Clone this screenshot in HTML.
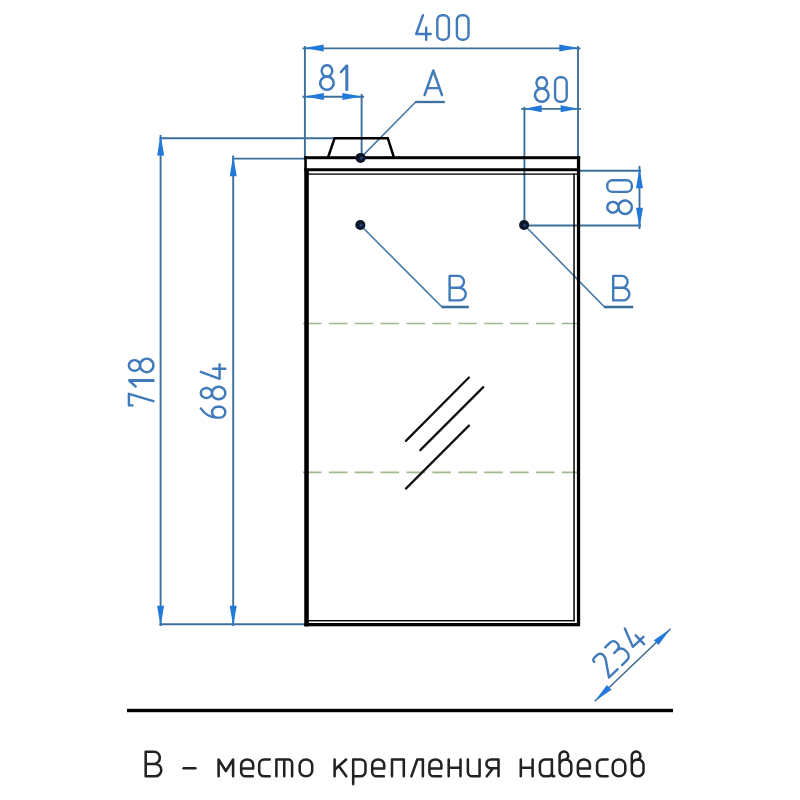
<!DOCTYPE html>
<html><head><meta charset="utf-8"><title>drawing</title>
<style>
html,body{margin:0;padding:0;background:#fff;width:800px;height:800px;overflow:hidden;font-family:"Liberation Sans",sans-serif;}
svg{display:block;position:absolute;left:0;top:0}
</style></head><body>
<svg width="800" height="800" viewBox="0 0 800 800">
<defs><filter id="soft" x="0" y="0" width="800" height="800" filterUnits="userSpaceOnUse"><feGaussianBlur stdDeviation="0.42"/></filter></defs>
<rect width="800" height="800" fill="#fff"/>
<g filter="url(#soft)">
<line x1="302.9" y1="323.5" x2="578" y2="323.5" stroke="#9fb98a" stroke-width="1.6" stroke-dasharray="18.6 7.3"/>
<line x1="302.9" y1="472.4" x2="578" y2="472.4" stroke="#9fb98a" stroke-width="1.6" stroke-dasharray="18.6 7.3"/>
<line x1="302.5" y1="48.4" x2="580.5" y2="48.4" stroke="#3b6f9c" stroke-width="1.9" />
<line x1="304.9" y1="46" x2="304.9" y2="157" stroke="#3b6f9c" stroke-width="1.9" />
<line x1="578.0" y1="46" x2="578.0" y2="157" stroke="#3b6f9c" stroke-width="1.9" />
<polygon points="304.20,48.00 323.70,44.50 323.70,51.50" fill="#2279d9"/>
<polygon points="578.80,48.00 559.30,51.50 559.30,44.50" fill="#2279d9"/>
<line x1="302.5" y1="96.7" x2="364" y2="96.7" stroke="#3b6f9c" stroke-width="1.9" />
<line x1="361.6" y1="94" x2="361.6" y2="157" stroke="#3b6f9c" stroke-width="1.9" />
<polygon points="304.40,96.50 323.90,93.00 323.90,100.00" fill="#2279d9"/>
<polygon points="361.90,96.50 342.40,100.00 342.40,93.00" fill="#2279d9"/>
<line x1="521" y1="108.9" x2="581" y2="108.9" stroke="#3b6f9c" stroke-width="1.9" />
<line x1="524.4" y1="107" x2="524.4" y2="225" stroke="#3b6f9c" stroke-width="1.9" />
<polygon points="524.20,108.80 541.70,105.30 541.70,112.30" fill="#2279d9"/>
<polygon points="578.60,108.80 560.60,112.30 560.60,105.30" fill="#2279d9"/>
<line x1="580" y1="170.7" x2="641" y2="170.7" stroke="#3b6f9c" stroke-width="1.9" />
<line x1="524" y1="225.5" x2="641" y2="225.5" stroke="#3b6f9c" stroke-width="1.9" />
<line x1="639.5" y1="166" x2="639.5" y2="229" stroke="#3b6f9c" stroke-width="1.9" />
<polygon points="639.50,168.00 643.00,188.20 636.00,188.20" fill="#2279d9"/>
<polygon points="639.50,227.60 636.00,207.80 643.00,207.80" fill="#2279d9"/>
<line x1="160.6" y1="135" x2="160.6" y2="626" stroke="#3b6f9c" stroke-width="1.9" />
<line x1="159.5" y1="138.2" x2="334" y2="138.2" stroke="#3b6f9c" stroke-width="1.9" />
<line x1="159.5" y1="624.2" x2="305" y2="624.2" stroke="#3b6f9c" stroke-width="1.9" />
<polygon points="160.60,134.60 164.10,155.60 157.10,155.60" fill="#2279d9"/>
<polygon points="160.60,626.30 157.10,605.80 164.10,605.80" fill="#2279d9"/>
<line x1="233.2" y1="155.5" x2="233.2" y2="626" stroke="#3b6f9c" stroke-width="1.9" />
<line x1="232" y1="158.6" x2="305" y2="158.6" stroke="#3b6f9c" stroke-width="1.9" />
<polygon points="233.20,155.20 236.70,176.20 229.70,176.20" fill="#2279d9"/>
<polygon points="233.20,626.30 229.70,605.80 236.70,605.80" fill="#2279d9"/>
<line x1="594.75" y1="701.25" x2="670.6" y2="628.75" stroke="#3a668f" stroke-width="1.4" />
<polygon points="594.75,701.25 606.93,685.05 611.49,689.82" fill="#2279d9"/>
<polygon points="670.60,628.75 658.42,644.95 653.86,640.18" fill="#2279d9"/>
<line x1="360.8" y1="157.6" x2="415.6" y2="102" stroke="#4577a3" stroke-width="1.6" />
<line x1="415" y1="102" x2="444.8" y2="102" stroke="#3b6f9c" stroke-width="2.3" />
<line x1="360" y1="224.8" x2="442" y2="307" stroke="#4577a3" stroke-width="1.6" />
<line x1="441.5" y1="307" x2="468.8" y2="307" stroke="#3b6f9c" stroke-width="2.6" />
<line x1="524" y1="224.8" x2="604.5" y2="307" stroke="#4577a3" stroke-width="1.6" />
<line x1="604" y1="307" x2="633.2" y2="307" stroke="#3b6f9c" stroke-width="2.6" />
<path d="M328.2,157 L334.6,138.2 H387.8 L393.8,157" fill="none" stroke="#000" stroke-width="2.5" stroke-linejoin="miter"/>
<rect x="304.25" y="156.2" width="275.90" height="3.00" fill="#000"/>
<rect x="304.25" y="168.25" width="275.75" height="2.95" fill="#000"/>
<rect x="308" y="173.45" width="269.00" height="1.30" fill="#000"/>
<rect x="304.25" y="156.2" width="2.55" height="470.10" fill="#000"/>
<rect x="306.0" y="169" width="2.80" height="457.30" fill="#000"/>
<rect x="576.9" y="156.2" width="3.25" height="469.80" fill="#000"/>
<rect x="573.3" y="173.5" width="1.50" height="447.80" fill="#000"/>
<rect x="304.25" y="623.0" width="275.75" height="3.30" fill="#000"/>
<rect x="308" y="620.0" width="266.80" height="1.40" fill="#000"/>
<line x1="405.9" y1="440.9" x2="468.9" y2="377.5" stroke="#111" stroke-width="2.2" stroke-linecap="round"/>
<line x1="420.3" y1="450.1" x2="483.3" y2="387.1" stroke="#111" stroke-width="2.2" stroke-linecap="round"/>
<line x1="405.9" y1="488.6" x2="468.9" y2="425.6" stroke="#111" stroke-width="2.2" stroke-linecap="round"/>
<circle cx="360.6" cy="157.9" r="5.0" fill="#0a1326"/>
<circle cx="361.3" cy="158.1" r="1.7" fill="#243f6b"/>
<circle cx="360.35" cy="225.0" r="5.0" fill="#0a1326"/>
<circle cx="361.05" cy="225.2" r="1.7" fill="#243f6b"/>
<circle cx="524.1" cy="225.0" r="5.0" fill="#0a1326"/>
<circle cx="524.8000000000001" cy="225.2" r="1.7" fill="#243f6b"/>
<rect x="127" y="708.8" width="546.00" height="3.40" fill="#000"/>
<g transform="translate(416.20,39.70) rotate(0) scale(1.0)" fill="none" stroke="#3f7aba" stroke-width="2.4" stroke-linecap="round" stroke-linejoin="round"><path transform="translate(0.00,-24.50) scale(1.0,1)" vector-effect="non-scaling-stroke" d="M6.8,0 L0,18.8 H14.5 M10.0,12.4 V24.5"/><path transform="translate(21.10,-24.50) scale(1.0,1)" vector-effect="non-scaling-stroke" d="M0,5 A5,5 0 0 1 5,0 H6.6 A5,5 0 0 1 11.6,5 V19.5 A5,5 0 0 1 6.6,24.5 H5 A5,5 0 0 1 0,19.5 Z"/><path transform="translate(40.70,-24.50) scale(1.0,1)" vector-effect="non-scaling-stroke" d="M0,5 A5,5 0 0 1 5,0 H6.6 A5,5 0 0 1 11.6,5 V19.5 A5,5 0 0 1 6.6,24.5 H5 A5,5 0 0 1 0,19.5 Z"/></g>
<g transform="translate(320.20,89.80) rotate(0) scale(1.0)" fill="none" stroke="#3f7aba" stroke-width="2.4" stroke-linecap="round" stroke-linejoin="round"><path transform="translate(0.00,-24.50) scale(1.0,1)" vector-effect="non-scaling-stroke" d="M6.75,0 A5.3,5.6 0 1 1 6.74,0 Z M6.75,11.2 A6.75,6.65 0 1 1 6.74,11.2 Z"/><path transform="translate(20.70,-24.50) scale(1.0,1)" vector-effect="non-scaling-stroke" d="M0,6.8 L5.6,0.4 V24.5 M6.2,0.4 V24.5"/></g>
<g transform="translate(535.00,101.80) rotate(0) scale(1.0)" fill="none" stroke="#3f7aba" stroke-width="2.4" stroke-linecap="round" stroke-linejoin="round"><path transform="translate(0.00,-24.50) scale(1.0,1)" vector-effect="non-scaling-stroke" d="M6.75,0 A5.3,5.6 0 1 1 6.74,0 Z M6.75,11.2 A6.75,6.65 0 1 1 6.74,11.2 Z"/><path transform="translate(20.10,-24.50) scale(1.0,1)" vector-effect="non-scaling-stroke" d="M0,5 A5,5 0 0 1 5,0 H6.6 A5,5 0 0 1 11.6,5 V19.5 A5,5 0 0 1 6.6,24.5 H5 A5,5 0 0 1 0,19.5 Z"/></g>
<g transform="translate(424.60,95.00) rotate(0) scale(1.0)" fill="none" stroke="#3f7aba" stroke-width="2.4" stroke-linecap="round" stroke-linejoin="round"><path transform="translate(0.00,-24.50) scale(1.0,1)" vector-effect="non-scaling-stroke" d="M0,24.5 L8.7,0 L17.4,24.5 M3.2,17.6 H14.2"/></g>
<g transform="translate(449.60,300.40) rotate(0) scale(1.0)" fill="none" stroke="#3f7aba" stroke-width="2.4" stroke-linecap="round" stroke-linejoin="round"><path transform="translate(0.00,-24.50) scale(1.0,1)" vector-effect="non-scaling-stroke" d="M0,0 V24.5 H9.5 A6.5,6.1 0 0 0 9.5,11.9 H0 M0,0 H8.5 A5.9,5.95 0 0 1 8.5,11.9"/></g>
<g transform="translate(613.20,300.40) rotate(0) scale(1.0)" fill="none" stroke="#3f7aba" stroke-width="2.4" stroke-linecap="round" stroke-linejoin="round"><path transform="translate(0.00,-24.50) scale(1.0,1)" vector-effect="non-scaling-stroke" d="M0,0 V24.5 H9.5 A6.5,6.1 0 0 0 9.5,11.9 H0 M0,0 H8.5 A5.9,5.95 0 0 1 8.5,11.9"/></g>
<g transform="translate(153.40,405.40) rotate(-90) scale(1.0)" fill="none" stroke="#3f7aba" stroke-width="2.4" stroke-linecap="round" stroke-linejoin="round"><path transform="translate(0.00,-24.50) scale(1.0,1)" vector-effect="non-scaling-stroke" d="M0,3.6 V0 H11.6 L4.2,24.5"/><path transform="translate(18.90,-24.50) scale(1.0,1)" vector-effect="non-scaling-stroke" d="M0,6.8 L5.6,0.4 V24.5 M6.2,0.4 V24.5"/><path transform="translate(33.20,-24.50) scale(1.0,1)" vector-effect="non-scaling-stroke" d="M6.75,0 A5.3,5.6 0 1 1 6.74,0 Z M6.75,11.2 A6.75,6.65 0 1 1 6.74,11.2 Z"/></g>
<g transform="translate(225.30,417.60) rotate(-90) scale(1.0)" fill="none" stroke="#3f7aba" stroke-width="2.4" stroke-linecap="round" stroke-linejoin="round"><path transform="translate(0.00,-24.50) scale(1,1)" vector-effect="non-scaling-stroke" d="M9.2,0 Q0,6.5 0,15.5 V19.2 A5.4,5.3 0 0 0 10.8,19.2 V16.6 A5.4,5.3 0 0 0 0,16.6"/><path transform="translate(18.40,-24.50) scale(0.92,1)" vector-effect="non-scaling-stroke" d="M6.75,0 A5.3,5.6 0 1 1 6.74,0 Z M6.75,11.2 A6.75,6.65 0 1 1 6.74,11.2 Z"/><path transform="translate(38.82,-24.50) scale(1,1)" vector-effect="non-scaling-stroke" d="M6.8,0 L0,18.8 H14.5 M10.0,12.4 V24.5"/></g>
<g transform="translate(631.80,214.00) rotate(-90) scale(1.0)" fill="none" stroke="#3f7aba" stroke-width="2.4" stroke-linecap="round" stroke-linejoin="round"><path transform="translate(0.00,-24.50) scale(1.0,1)" vector-effect="non-scaling-stroke" d="M6.75,0 A5.3,5.6 0 1 1 6.74,0 Z M6.75,11.2 A6.75,6.65 0 1 1 6.74,11.2 Z"/><path transform="translate(22.10,-24.50) scale(1.0,1)" vector-effect="non-scaling-stroke" d="M0,5 A5,5 0 0 1 5,0 H6.6 A5,5 0 0 1 11.6,5 V19.5 A5,5 0 0 1 6.6,24.5 H5 A5,5 0 0 1 0,19.5 Z"/></g>
<g transform="translate(609.00,677.50) rotate(-43.6) scale(1.0)" fill="none" stroke="#3f7aba" stroke-width="2.4" stroke-linecap="round" stroke-linejoin="round"><path transform="translate(0.00,-24.50) scale(1.0,1)" vector-effect="non-scaling-stroke" d="M0,3 Q0,0 3.5,0 H6 Q11.3,0 11.3,5 Q11.3,7.6 9.9,9.4 L0,24.5 H12"/><path transform="translate(18.00,-24.50) scale(1.0,1)" vector-effect="non-scaling-stroke" d="M0,0 H6.4 Q11.6,0 11.6,5.1 Q11.6,10.3 6.4,10.3 H2.6 M6.4,10.3 Q12.6,10.3 12.6,17.4 Q12.6,24.5 6.3,24.5 H0"/><path transform="translate(38.40,-24.50) scale(1.0,1)" vector-effect="non-scaling-stroke" d="M6.8,0 L0,18.8 H14.5 M10.0,12.4 V24.5"/></g>
<g fill="none" stroke="#222" stroke-width="2.55" stroke-linecap="round" stroke-linejoin="round"><path transform="translate(145.7,759.50)" d="M0,-7.8 V16.8 H9.3 A6.3,6.2 0 0 0 9.3,4.4 H0 M0,-7.8 H8.3 A5.8,6.1 0 0 1 8.3,4.4"/><path transform="translate(183.6,759.50)" d="M0,8.7 H11.8"/><path transform="translate(218.6,759.50)" d="M0,16.8 V0 L7.25,11.5 L14.5,0 V16.8"/><path transform="translate(241.2,759.50)" d="M0,9 H12 V5.2 A6,5.2 0 0 0 0,5.2 V12.4 A4.4,4.4 0 0 0 4.4,16.8 H11.6"/><path transform="translate(259.2,759.50)" d="M10.5,0 H5 A5,5 0 0 0 0,5 V11.8 A5,5 0 0 0 5,16.8 H10.5"/><path transform="translate(276.4,759.50)" d="M0,16.8 V0 H11.9 A3.8,3.8 0 0 1 15.7,3.8 V16.8 M7.85,0 V16.8"/><path transform="translate(299.7,759.50)" d="M0,5.6 A6.25,5.6 0 0 1 12.5,5.6 V11.200000000000001 A6.25,5.6 0 0 1 0,11.200000000000001 Z"/><path transform="translate(334.6,759.50)" d="M0,0 V16.8 M11.5,0 L0,10.2 M4.2,6.6 L11.7,16.8"/><path transform="translate(353.2,759.50)" d="M0,0 V24.6 M0,0 H7.3 A5,5 0 0 1 12.3,5 V11.8 A5,5 0 0 1 7.3,16.8 H0"/><path transform="translate(372.2,759.50)" d="M0,9 H12 V5.2 A6,5.2 0 0 0 0,5.2 V12.4 A4.4,4.4 0 0 0 4.4,16.8 H11.6"/><path transform="translate(392.0,759.50)" d="M0,16.8 V0 H11.8 V16.8"/><path transform="translate(411.4,759.50)" d="M0,16.8 L5.9,0 H11.5 V16.8"/><path transform="translate(429.4,759.50)" d="M0,9 H12 V5.2 A6,5.2 0 0 0 0,5.2 V12.4 A4.4,4.4 0 0 0 4.4,16.8 H11.6"/><path transform="translate(448.7,759.50)" d="M0,0 V16.8 M11.8,0 V16.8 M0,8.3 H11.8"/><path transform="translate(467.9,759.50)" d="M0,0 V12.4 A4.4,4.4 0 0 0 4.4,16.8 H11.7 M11.7,0 V16.8"/><path transform="translate(486.2,759.50)" d="M12.3,0 V16.8 M12.3,0 H4.8 A4.6,4.4 0 0 0 4.8,8.8 H12.3 M6.8,8.8 L0.6,16.8"/><path transform="translate(520.8,759.50)" d="M0,0 V16.8 M11.8,0 V16.8 M0,8.3 H11.8"/><path transform="translate(539.9,759.50)" d="M12,0 H5.2 A5.2,5.2 0 0 0 0,5.2 V11.6 A5.2,5.2 0 0 0 5.2,16.8 H8 Q12,16.8 12,12.6 M12,0 V14.4 Q12,16.8 14.3,16.8"/><path transform="translate(559.6,759.50)" d="M0,5 A5.85,5 0 0 1 11.7,5 V11.4 A5.85,5.4 0 0 1 0,11.4 V-3.6 A4.3,4.4 0 0 1 8.6,-3.6 Q8.6,0.2 3.2,0.4"/><path transform="translate(577.9,759.50)" d="M0,9 H12 V5.2 A6,5.2 0 0 0 0,5.2 V12.4 A4.4,4.4 0 0 0 4.4,16.8 H11.6"/><path transform="translate(597.1,759.50)" d="M10.5,0 H5 A5,5 0 0 0 0,5 V11.8 A5,5 0 0 0 5,16.8 H10.5"/><path transform="translate(612.8,759.50)" d="M0,5.6 A6.25,5.6 0 0 1 12.5,5.6 V11.200000000000001 A6.25,5.6 0 0 1 0,11.200000000000001 Z"/><path transform="translate(631.8,759.50)" d="M0,5 A5.85,5 0 0 1 11.7,5 V11.4 A5.85,5.4 0 0 1 0,11.4 V-3.6 A4.3,4.4 0 0 1 8.6,-3.6 Q8.6,0.2 3.2,0.4"/></g>
</g>
</svg>
</body></html>
